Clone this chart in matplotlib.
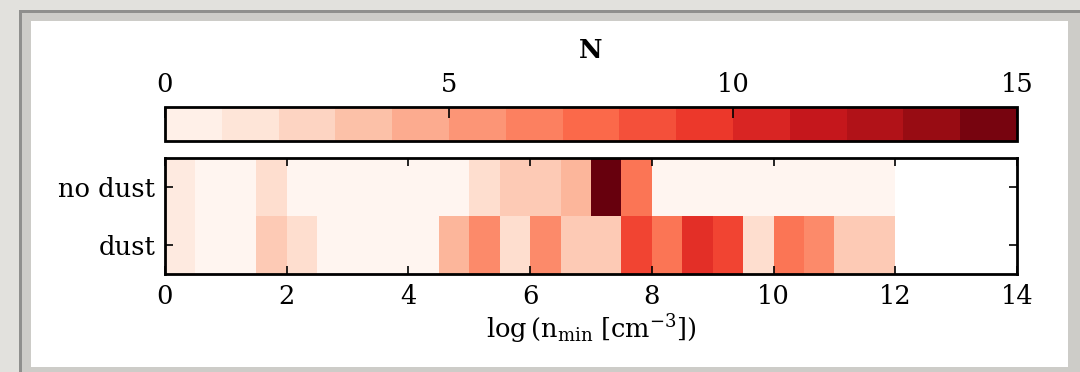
import numpy as np
import matplotlib
matplotlib.use('Agg')
import matplotlib.pyplot as plt
from matplotlib.patches import Rectangle
from matplotlib import colors, colorbar

# ---------- DATA ----------
bin_edges = np.arange(0, 14.5, 0.5)
row_labels = ['no dust', 'dust']
nan = np.nan
no_dust = [1, 0, 0, 2, 0, 0, 0, 0, 0, 0, 2, 3, 3, 4, 15, 7,
           0, 0, 0, 0, 0, 0, 0, 0, nan, nan, nan, nan]
dust = [1, 0, 0, 3, 2, 0, 0, 0, 0, 4, 6, 2, 6, 3, 3, 9,
        7, 10, 9, 2, 7, 6, 3, 3, nan, nan, nan, nan]
x_ticks = [0, 2, 4, 6, 8, 10, 12, 14]
cbar_ticks = [0, 5, 10, 15]

plt.rcParams['font.family'] = ['DejaVu Serif']
plt.rcParams['mathtext.fontset'] = 'dejavuserif'
plt.rcParams['font.size'] = 18.5

W, H = 1080, 372
fig = plt.figure(figsize=(W / 100, H / 100), dpi=100, facecolor='#e2e1dd')


def fig_rect(x0, y0, x1, y1, color):
    # pixel box (top-left origin) -> figure coords
    r = Rectangle((x0 / W, 1 - y1 / H), (x1 - x0) / W, (y1 - y0) / H,
                  transform=fig.transFigure, facecolor=color,
                  edgecolor='none', zorder=-5)
    fig.add_artist(r)


fig_rect(19, 10, 1090, 380, '#8f8f8d')
fig_rect(22, 13, 1090, 380, '#cdccc8')
fig_rect(31, 21, 1068, 367, 'white')

cmap = plt.get_cmap('Reds')
norm = colors.Normalize(vmin=0, vmax=15)

# heatmap
ax = fig.add_axes([165 / W, 1 - 274 / H, 852 / W, 116 / H])
data = np.ma.masked_invalid(np.array([no_dust, dust]))
ax.pcolormesh(bin_edges, [0, 1, 2], data, cmap=cmap, norm=norm)
ax.set_xlim(0, 14)
ax.set_ylim(2, 0)
ax.set_xticks(x_ticks)
ax.set_yticks([0.5, 1.5])
ax.set_yticklabels(row_labels)
ax.tick_params(direction='in', length=6, width=1.2, top=True, right=True, pad=7)
for s in ax.spines.values():
    s.set_linewidth(2)
ax.set_xlabel(r'log$\,$(n$_{\mathrm{min}}$ [cm$^{-3}$])', labelpad=3)

# colorbar
cax = fig.add_axes([165 / W, 1 - 141 / H, 852 / W, 34 / H])
cb = colorbar.ColorbarBase(cax, cmap=cmap, norm=norm, boundaries=np.arange(16),
                           orientation='horizontal', ticks=cbar_ticks,
                           ticklocation='top')
cb.outline.set_linewidth(2)
cax.tick_params(direction='in', length=8, width=1.2, pad=7)
cb.set_label('N', fontweight='bold', labelpad=10)

fig.savefig('out.png', dpi=100, facecolor=fig.get_facecolor())
